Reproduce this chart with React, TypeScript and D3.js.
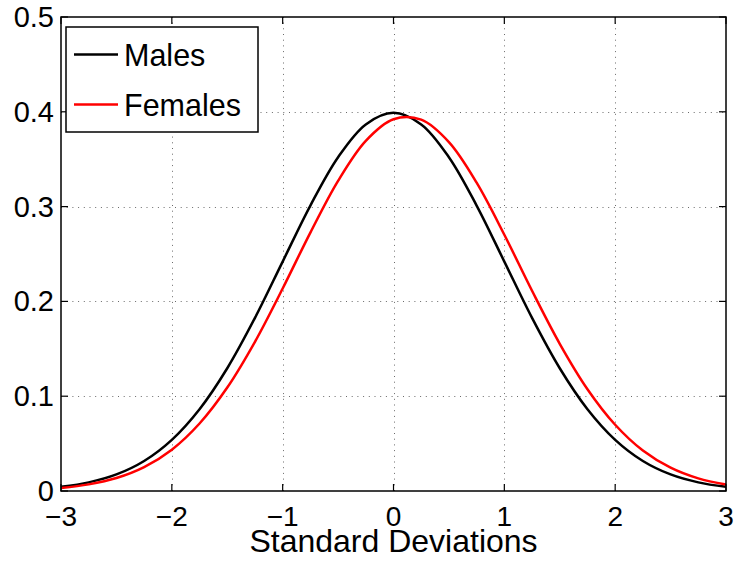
import { useEffect, useRef } from 'react';
import * as d3 from 'd3';

// x positions (standard deviations) at which the curves were read
const xValues = [
  -3, -2.75, -2.5, -2.25, -2, -1.75, -1.5, -1.25, -1, -0.75, -0.5, -0.25, 0,
  0.25, 0.5, 0.75, 1, 1.25, 1.5, 1.75, 2, 2.25, 2.5, 2.75, 3,
];

const malesValues = [
  0.0044, 0.0091, 0.0175, 0.0317, 0.054, 0.0863, 0.1295, 0.1826, 0.242, 0.3011,
  0.3521, 0.3867, 0.3989, 0.3867, 0.3521, 0.3011, 0.242, 0.1826, 0.1295, 0.0863,
  0.054, 0.0317, 0.0175, 0.0091, 0.0044,
];

const femalesValues = [
  0.0031, 0.007, 0.0137, 0.0252, 0.0436, 0.0712, 0.1091, 0.1574, 0.2136, 0.2726,
  0.3272, 0.3694, 0.3922, 0.3917, 0.368, 0.3252, 0.2703, 0.2112, 0.1553, 0.1074,
  0.0699, 0.0427, 0.0246, 0.0133, 0.0068,
];

const xTicks = [-3, -2, -1, 0, 1, 2, 3];
const yTicks = [0, 0.1, 0.2, 0.3, 0.4, 0.5];

const seriesNames = ['Males', 'Females'];
const seriesColors = ['#000000', '#ff0000'];

export default function App() {
  const svgRef = useRef<SVGSVGElement>(null);

  useEffect(() => {
    if (!svgRef.current) return;
    const svg = d3.select(svgRef.current);
    svg.selectAll('*').remove();

    const width = 734;
    const height = 562;
    const margin = { top: 17, right: 8, bottom: 71, left: 61 };
    const w = width - margin.left - margin.right;
    const h = height - margin.top - margin.bottom;
    const font = 'Liberation Sans, Arial, Helvetica, sans-serif';

    svg.attr('width', width).attr('height', height);
    svg.append('rect').attr('width', width).attr('height', height).attr('fill', '#fff');

    const g = svg.append('g').attr('transform', `translate(${margin.left},${margin.top})`);

    const x = d3.scaleLinear().domain([-3, 3]).range([0, w]);
    const y = d3.scaleLinear().domain([0, 0.5]).range([h, 0]);

    // Dotted grid
    const grid = g.append('g')
      .attr('stroke', '#6a6a6a')
      .attr('stroke-width', 1)
      .attr('stroke-dasharray', '1,4.7');
    xTicks.slice(1, -1).forEach(t => {
      grid.append('line')
        .attr('x1', Math.round(x(t)) + 0.5).attr('x2', Math.round(x(t)) + 0.5)
        .attr('y1', h).attr('y2', 0);
    });
    yTicks.slice(1, -1).forEach(t => {
      grid.append('line')
        .attr('x1', 0).attr('x2', w)
        .attr('y1', Math.round(y(t)) + 0.5).attr('y2', Math.round(y(t)) + 0.5);
    });

    // Curves
    const data = [malesValues, femalesValues];
    const line = d3.line<number>()
      .x((_, i) => x(xValues[i]))
      .y(d => y(d))
      .curve(d3.curveCatmullRom.alpha(0.5));

    data.forEach((vals, i) => {
      g.append('path')
        .datum(vals)
        .attr('d', line)
        .attr('fill', 'none')
        .attr('stroke', seriesColors[i])
        .attr('stroke-width', 2.5);
    });

    // Box and inward ticks
    const axisColor = '#000';
    g.append('rect')
      .attr('x', 0).attr('y', 0).attr('width', w).attr('height', h)
      .attr('fill', 'none').attr('stroke', axisColor).attr('stroke-width', 1.5);

    const tickLen = 7;
    xTicks.forEach(t => {
      const px = x(t);
      g.append('line').attr('x1', px).attr('x2', px).attr('y1', h).attr('y2', h - tickLen)
        .attr('stroke', axisColor).attr('stroke-width', 1.2);
      g.append('line').attr('x1', px).attr('x2', px).attr('y1', 0).attr('y2', tickLen)
        .attr('stroke', axisColor).attr('stroke-width', 1.2);
      g.append('text')
        .attr('x', px)
        .attr('y', h + 35)
        .attr('text-anchor', 'middle')
        .style('font-family', font)
        .style('font-size', '28px')
        .text(t < 0 ? `\u2212${Math.abs(t)}` : `${t}`);
    });

    yTicks.forEach(t => {
      const py = y(t);
      g.append('line').attr('x1', 0).attr('x2', tickLen).attr('y1', py).attr('y2', py)
        .attr('stroke', axisColor).attr('stroke-width', 1.2);
      g.append('line').attr('x1', w).attr('x2', w - tickLen).attr('y1', py).attr('y2', py)
        .attr('stroke', axisColor).attr('stroke-width', 1.2);
      g.append('text')
        .attr('x', -7)
        .attr('y', py + 10)
        .attr('text-anchor', 'end')
        .style('font-family', font)
        .style('font-size', '29px')
        .text(t === 0 ? '0' : d3.format('.1f')(t));
    });

    // X label
    g.append('text')
      .attr('x', w / 2)
      .attr('y', h + 61)
      .attr('text-anchor', 'middle')
      .style('font-family', font)
      .style('font-size', '32px')
      .text('Standard Deviations');

    // Legend
    const legend = svg.append('g').attr('transform', 'translate(66,27)');
    legend.append('rect')
      .attr('width', 192).attr('height', 105)
      .attr('fill', '#fff').attr('stroke', '#000').attr('stroke-width', 1.5);
    seriesNames.forEach((name, i) => {
      const cy = 27.5 + i * 50;
      legend.append('line')
        .attr('x1', 8).attr('x2', 52).attr('y1', cy).attr('y2', cy)
        .attr('stroke', seriesColors[i]).attr('stroke-width', 2.5);
      legend.append('text')
        .attr('x', 58)
        .attr('y', cy + 11)
        .style('font-family', font)
        .style('font-size', '30.5px')
        .text(name);
    });
  }, []);

  return (
    <svg
      ref={svgRef}
      style={{ display: 'block', position: 'absolute', left: 0, top: 0 }}
    />
  );
}
